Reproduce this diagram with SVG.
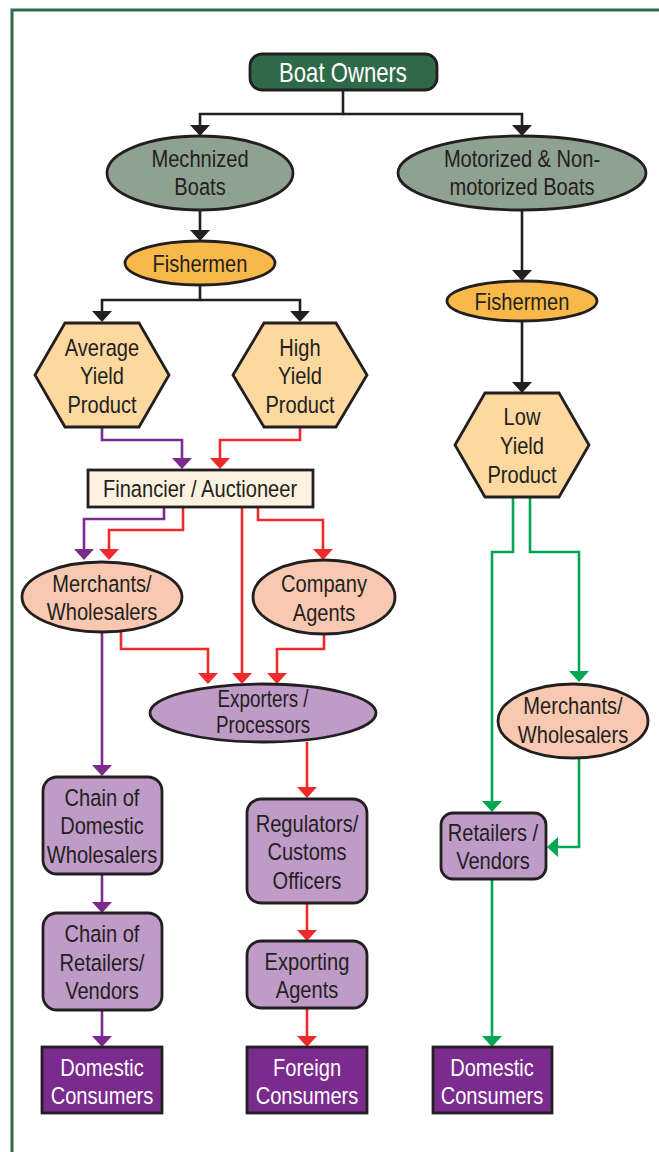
<svg xmlns="http://www.w3.org/2000/svg" width="659" height="1152" viewBox="0 0 659 1152">
<defs>
<style>
text{font-family:"Liberation Sans",Arial,sans-serif;font-size:24.5px;fill:#231f20;text-anchor:middle}
.w{fill:#ffffff}
.shape{stroke:#231f20;stroke-width:2.8}
.dk{fill:#2f6a48}
.gr{fill:#8fa190}
.fi{fill:#f9b94a}
.hx{fill:#fdd9a0}
.cr{fill:#fdf1df}
.pk{fill:#f9c8b0}
.pu{fill:#bf9bc8}
.cs{fill:#7b2a8e}
.c{fill:none;stroke-width:2.6}
.k{stroke:#231f20;marker-end:url(#ak)}
.p{stroke:#7b2a8e;marker-end:url(#ap)}
.r{stroke:#ee2a2a;marker-end:url(#ar)}
.g{stroke:#00a651;marker-end:url(#ag)}
</style>
<marker id="ak" viewBox="0 0 11 20" refX="3" refY="10" markerWidth="11" markerHeight="20" markerUnits="userSpaceOnUse" orient="auto"><path d="M0,0 L11,10 L0,20 z" fill="#231f20"/></marker>
<marker id="ap" viewBox="0 0 11 20" refX="3" refY="10" markerWidth="11" markerHeight="20" markerUnits="userSpaceOnUse" orient="auto"><path d="M0,0 L11,10 L0,20 z" fill="#7b2a8e"/></marker>
<marker id="ar" viewBox="0 0 11 20" refX="3" refY="10" markerWidth="11" markerHeight="20" markerUnits="userSpaceOnUse" orient="auto"><path d="M0,0 L11,10 L0,20 z" fill="#ee2a2a"/></marker>
<marker id="ag" viewBox="0 0 11 20" refX="3" refY="10" markerWidth="11" markerHeight="20" markerUnits="userSpaceOnUse" orient="auto"><path d="M0,0 L11,10 L0,20 z" fill="#00a651"/></marker>
</defs>
<rect width="659" height="1152" fill="#ffffff"/>
<path id="frame" d="M12,1152 V10 H659" fill="none" stroke="#2e6b47" stroke-width="3"/>

<g id="connectors">
<path class="c k" d="M343,90 V114 H200 V128"/>
<path class="c k" d="M343,114 H522 V128"/>
<path class="c k" d="M200,210 V233"/>
<path class="c k" d="M200,285 V300 H102 V314"/>
<path class="c k" d="M200,300 H300 V314"/>
<path class="c k" d="M522,210 V273"/>
<path class="c k" d="M522,321 V385"/>

<path class="c p" d="M102,427 V440 H182 V461"/>
<path class="c p" d="M164,507 V519 H84 V552"/>
<path class="c p" d="M102,632 V768"/>
<path class="c p" d="M102,874 V905"/>
<path class="c p" d="M102,1010 V1039"/>

<path class="c r" d="M300,427 V440 H220 V461"/>
<path class="c r" d="M183,507 V530 H109 V552"/>
<path class="c r" d="M242,507 V676"/>
<path class="c r" d="M258,507 V520 H323 V552"/>
<path class="c r" d="M121,630 V649 H208 V676"/>
<path class="c r" d="M324,634 V649 H277 V676"/>
<path class="c r" d="M307,742 V790"/>
<path class="c r" d="M307,903 V933"/>
<path class="c r" d="M307,1008 V1039"/>

<path class="c g" d="M513,497 V552 H492 V804"/>
<path class="c g" d="M530,497 V552 H579 V674"/>
<path class="c g" d="M579,758 V847 H555"/>
<path class="c g" d="M492,879 V1039"/>
</g>

<g id="boat-owners"><rect class="shape dk" x="250" y="54" width="187" height="36" rx="12"/><g transform="translate(343,0) scale(0.82,1)"><text class="w" x="0" y="82" style="font-size:27px">Boat Owners</text></g></g>
<g id="mechnized-boats"><ellipse class="shape gr" cx="200" cy="173" rx="93" ry="37"/><g transform="translate(200,0) scale(0.82,1)"><text x="0" y="167">Mechnized</text><text x="0" y="195">Boats</text></g></g>
<g id="motorized-boats"><ellipse class="shape gr" cx="522" cy="173" rx="124" ry="37"/><g transform="translate(522,0) scale(0.82,1)"><text x="0" y="167">Motorized &amp; Non-</text><text x="0" y="195">motorized Boats</text></g></g>
<g id="fishermen-left"><ellipse class="shape fi" cx="200" cy="263" rx="75" ry="22"/><g transform="translate(200,0) scale(0.82,1)"><text x="0" y="272">Fishermen</text></g></g>
<g id="fishermen-right"><ellipse class="shape fi" cx="522" cy="301" rx="75" ry="20"/><g transform="translate(522,0) scale(0.82,1)"><text x="0" y="310">Fishermen</text></g></g>
<g id="average-yield"><polygon class="shape hx" points="35,375 65,323 139,323 169,375 139,427 65,427"/><g transform="translate(102,0) scale(0.82,1)"><text x="0" y="356">Average</text><text x="0" y="384">Yield</text><text x="0" y="413">Product</text></g></g>
<g id="high-yield"><polygon class="shape hx" points="233,375 264,323 336,323 367,375 336,427 264,427"/><g transform="translate(300,0) scale(0.82,1)"><text x="0" y="356">High</text><text x="0" y="384">Yield</text><text x="0" y="413">Product</text></g></g>
<g id="low-yield"><polygon class="shape hx" points="455,445 485,393 559,393 589,445 559,497 485,497"/><g transform="translate(522,0) scale(0.82,1)"><text x="0" y="425">Low</text><text x="0" y="454">Yield</text><text x="0" y="483">Product</text></g></g>
<g id="financier"><rect class="shape cr" x="88" y="470" width="225" height="37"/><g transform="translate(200,0) scale(0.82,1)"><text x="0" y="497">Financier / Auctioneer</text></g></g>
<g id="merchants-left"><ellipse class="shape pk" cx="102" cy="597" rx="80" ry="35"/><g transform="translate(102,0) scale(0.82,1)"><text x="0" y="592">Merchants/</text><text x="0" y="620">Wholesalers</text></g></g>
<g id="company-agents"><ellipse class="shape pk" cx="324" cy="597" rx="71" ry="37"/><g transform="translate(324,0) scale(0.82,1)"><text x="0" y="592">Company</text><text x="0" y="621">Agents</text></g></g>
<g id="exporters"><ellipse class="shape pu" cx="263" cy="713" rx="113" ry="29"/><g transform="translate(263,0) scale(0.82,1)"><text x="0" y="707" style="font-size:23px">Exporters /</text><text x="0" y="733" style="font-size:23px">Processors</text></g></g>
<g id="chain-domestic"><rect class="shape pu" x="43" y="777" width="119" height="97" rx="14"/><g transform="translate(102,0) scale(0.82,1)"><text x="0" y="806">Chain of</text><text x="0" y="834">Domestic</text><text x="0" y="863">Wholesalers</text></g></g>
<g id="chain-retailers"><rect class="shape pu" x="43" y="913" width="119" height="97" rx="14"/><g transform="translate(102,0) scale(0.82,1)"><text x="0" y="942">Chain of</text><text x="0" y="971">Retailers/</text><text x="0" y="999">Vendors</text></g></g>
<g id="regulators"><rect class="shape pu" x="247" y="799" width="120" height="104" rx="14"/><g transform="translate(307,0) scale(0.82,1)"><text x="0" y="832">Regulators/</text><text x="0" y="860">Customs</text><text x="0" y="889">Officers</text></g></g>
<g id="exporting-agents"><rect class="shape pu" x="247" y="941" width="120" height="67" rx="14"/><g transform="translate(307,0) scale(0.82,1)"><text x="0" y="970">Exporting</text><text x="0" y="998">Agents</text></g></g>
<g id="merchants-right"><ellipse class="shape pk" cx="573" cy="721" rx="75" ry="37"/><g transform="translate(573,0) scale(0.82,1)"><text x="0" y="714">Merchants/</text><text x="0" y="743">Wholesalers</text></g></g>
<g id="retailers-vendors"><rect class="shape pu" x="441" y="813" width="105" height="66" rx="12"/><g transform="translate(493,0) scale(0.82,1)"><text x="0" y="841">Retailers /</text><text x="0" y="869">Vendors</text></g></g>
<g id="domestic-consumers-left"><rect class="shape cs" x="42" y="1047" width="120" height="66"/><g transform="translate(102,0) scale(0.82,1)"><text class="w" x="0" y="1076">Domestic</text><text class="w" x="0" y="1104">Consumers</text></g></g>
<g id="foreign-consumers"><rect class="shape cs" x="247" y="1047" width="120" height="66"/><g transform="translate(307,0) scale(0.82,1)"><text class="w" x="0" y="1076">Foreign</text><text class="w" x="0" y="1104">Consumers</text></g></g>
<g id="domestic-consumers-right"><rect class="shape cs" x="433" y="1047" width="119" height="66"/><g transform="translate(492,0) scale(0.82,1)"><text class="w" x="0" y="1076">Domestic</text><text class="w" x="0" y="1104">Consumers</text></g></g>
</svg>
